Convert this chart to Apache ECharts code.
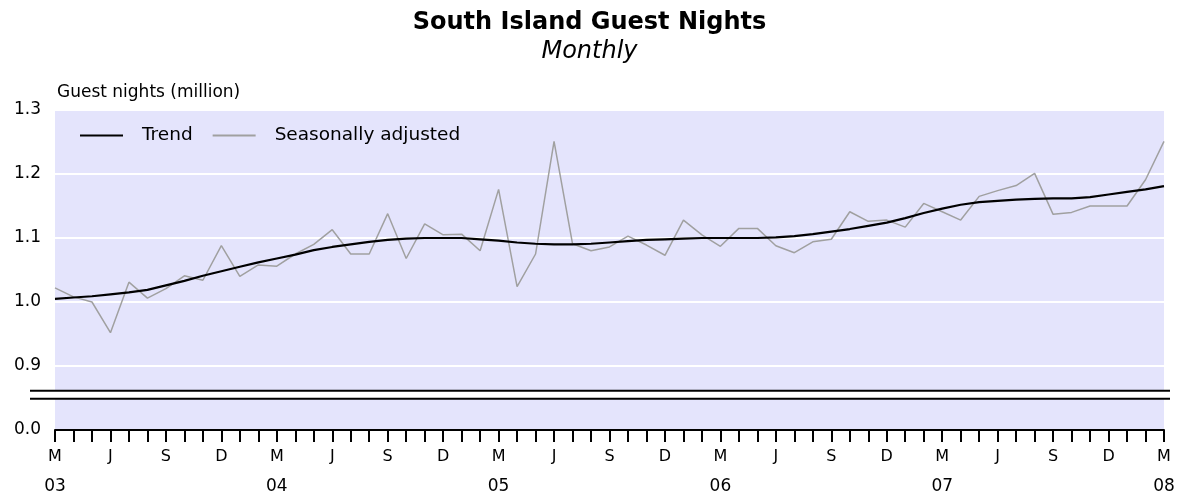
<!DOCTYPE html>
<html><head><meta charset="utf-8">
<script src="https://cdn.jsdelivr.net/npm/echarts@6/dist/echarts.min.js"></script>
<style>html,body{margin:0;padding:0;background:#fff}#c{width:1179px;height:495px}</style>
</head><body><div id="c"></div>
<script>
// Monthly categories: Mar 2003 .. Mar 2008
const categories = [];
for (let y = 2003; y <= 2008; y++) {
  for (let m = 1; m <= 12; m++) {
    if ((y === 2003 && m < 3) || (y === 2008 && m > 3)) continue;
    categories.push(y + '-' + String(m).padStart(2, '0'));
  }
}
const monthLetters = ['J','F','M','A','M','J','J','A','S','O','N','D'];

const trend = [
  1.005,1.007,1.009,1.012,1.015,1.019,1.026,1.033,1.041,1.048,
  1.055,1.062,1.068,1.074,1.081,1.086,1.090,1.094,1.097,1.099,
  1.100,1.100,1.100,1.098,1.096,1.093,1.091,1.090,1.090,1.091,
  1.093,1.095,1.097,1.098,1.099,1.100,1.100,1.100,1.100,1.101,
  1.103,1.106,1.110,1.114,1.119,1.124,1.131,1.139,1.146,1.152,
  1.156,1.158,1.160,1.161,1.162,1.162,1.164,1.168,1.172,1.176,
  1.181
];
const seasonallyAdjusted = [
  1.022,1.008,1.000,0.952,1.031,1.006,1.021,1.041,1.034,1.088,
  1.040,1.058,1.056,1.075,1.090,1.113,1.075,1.075,1.138,1.068,
  1.122,1.105,1.106,1.080,1.176,1.024,1.075,1.251,1.091,1.080,
  1.086,1.103,1.089,1.073,1.128,1.105,1.087,1.115,1.115,1.088,
  1.077,1.094,1.098,1.141,1.126,1.128,1.117,1.154,1.141,1.128,
  1.165,1.174,1.182,1.201,1.137,1.140,1.150,1.150,1.150,1.191,
  1.251
];
// Broken value axis: the bottom of the axis stands for 0.0, the part above the break runs 0.9-1.3
const yTickLabels = ['0.0', '0.9', '1.0', '1.1', '1.2', '1.3'];
const yAxisBottom = 0.8, yMax = 1.3, yStep = 0.1;
const breakLow = 0.849, breakHigh = 0.8615;

const FONT = 'DejaVu Sans';
const chart = echarts.init(document.getElementById('c'));
chart.setOption({
  animation: false,
  backgroundColor: '#fff',
  title: {
    text: 'South Island Guest Nights', subtext: 'Monthly',
    left: 'center', top: 6, itemGap: 5,
    textStyle: { fontFamily: FONT, fontWeight: 'bold', fontSize: 24, color: '#000' },
    subtextStyle: { fontFamily: FONT, fontStyle: 'italic', fontSize: 24, color: '#000' }
  },
  legend: {
    left: 75, top: 121, itemWidth: 43, itemHeight: 2, itemGap: 20, icon: 'rect',
    textStyle: { fontFamily: FONT, fontSize: 18.5, color: '#000', padding: [0, 0, 0, 14] },
    data: ['Trend', 'Seasonally adjusted']
  },
  grid: { left: 55, right: 15, top: 110, bottom: 65, show: true, backgroundColor: '#E4E4FC', borderWidth: 0 },
  xAxis: {
    type: 'category', data: categories, boundaryGap: false,
    axisLine: { lineStyle: { color: '#000', width: 2 } },
    axisTick: { interval: 0, length: 12, lineStyle: { color: '#000', width: 2 } },
    splitLine: { show: false },
    axisLabel: {
      interval: 2, margin: 19, color: '#000',
      formatter: function (v) {
        const m = parseInt(v.slice(5), 10);
        const letter = monthLetters[m - 1];
        if (m === 3) return '{m|' + letter + '}\n{y|' + v.slice(2, 4) + '}';
        return '{m|' + letter + '}';
      },
      rich: {
        m: { fontFamily: FONT, fontSize: 16, lineHeight: 16, color: '#000' },
        y: { fontFamily: FONT, fontSize: 17, lineHeight: 43, color: '#000' }
      }
    }
  },
  yAxis: {
    type: 'value', min: yAxisBottom, max: yMax, interval: yStep,
    axisLine: { show: false }, axisTick: { show: false },
    splitLine: { lineStyle: { color: '#fff', width: 2 } },
    axisLabel: {
      margin: 14, color: '#000', fontFamily: FONT, fontSize: 17,
      formatter: function (v, i) { return yTickLabels[i]; }
    },
    name: 'Guest nights (million)', nameLocation: 'end', nameGap: 9,
    nameTextStyle: { align: 'left', fontFamily: FONT, fontSize: 17, color: '#000', padding: [0, 0, 0, 2] }
  },
  series: [
    { name: 'Seasonally adjusted', type: 'line', data: seasonallyAdjusted, symbol: 'none',
      lineStyle: { color: '#A0A0A0', width: 1.5 }, itemStyle: { color: '#A0A0A0' }, z: 2 },
    { name: 'Trend', type: 'line', data: trend, symbol: 'none',
      lineStyle: { color: '#000', width: 2.2 }, itemStyle: { color: '#000' }, z: 3 }
  ]
});

// Axis-break marker: positions come from the value axis scale
const gridRect = chart.getModel().getComponent('grid', 0).coordinateSystem.getRect();
const yLo = chart.convertToPixel({ yAxisIndex: 0 }, breakLow);
const yHi = chart.convertToPixel({ yAxisIndex: 0 }, breakHigh);
const x0 = gridRect.x - 25, x1 = gridRect.x + gridRect.width + 6;
chart.setOption({
  graphic: [
    { type: 'rect', z: 50, shape: { x: x0, y: yHi, width: x1 - x0, height: yLo - yHi }, style: { fill: '#fff' } },
    { type: 'line', z: 51, shape: { x1: x0, y1: yHi, x2: x1, y2: yHi }, style: { stroke: '#000', lineWidth: 2 } },
    { type: 'line', z: 51, shape: { x1: x0, y1: yLo, x2: x1, y2: yLo }, style: { stroke: '#000', lineWidth: 2 } }
  ]
});
</script></body></html>
